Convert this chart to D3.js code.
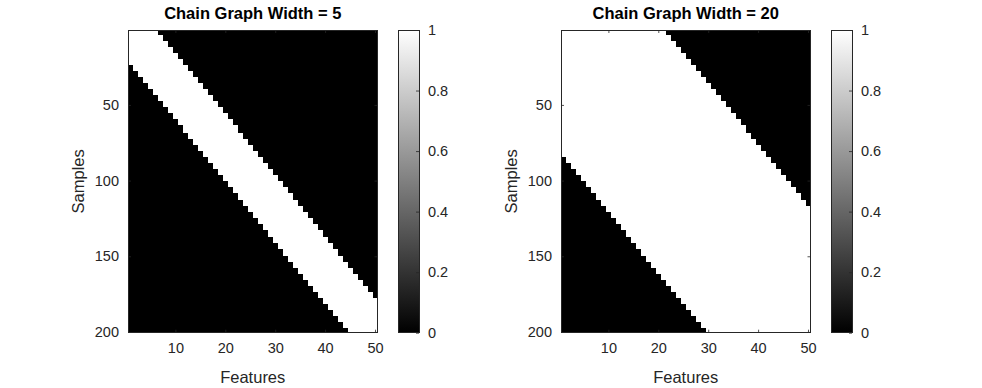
<!DOCTYPE html>
<html><head><meta charset="utf-8">
<script src="https://cdn.jsdelivr.net/npm/d3@7"></script>
<style>
body{margin:0;background:#fff;}
svg{display:block;font-family:Arial,"Liberation Sans",Helvetica,sans-serif;}
</style></head>
<body><svg id="c" width="982" height="388"></svg>
<script>
// Data: for each feature (1..50), the first and last sample index that is 1 (white)
const features = d3.range(1, 51);
const nSamples = 200;
const titles = ["Chain Graph Width = 5", "Chain Graph Width = 20"];
const firstW5 = [1,1,1,1,1,1,4,8,12,16,20,24,28,32,36,40,44,48,52,56,60,64,69,73,77,81,85,89,93,97,101,105,109,113,117,121,125,129,133,138,142,146,150,154,158,162,166,170,174,178];
const lastW5  = [23,27,31,35,39,43,47,51,55,59,63,68,72,76,80,84,88,92,96,100,104,108,112,116,120,124,128,132,137,141,145,149,153,157,161,165,169,173,177,181,185,189,193,197,200,200,200,200,200,200];
const firstW20 = [1,1,1,1,1,1,1,1,1,1,1,1,1,1,1,1,1,1,1,1,1,4,8,12,16,20,24,28,32,36,40,44,48,52,56,60,64,69,73,77,81,85,89,93,97,101,105,109,113,117];
const lastW20  = [84,88,92,96,100,104,108,112,116,120,124,128,132,137,141,145,149,153,157,161,165,169,173,177,181,185,189,193,197,200,200,200,200,200,200,200,200,200,200,200,200,200,200,200,200,200,200,200,200,200];
const xTicks = [10,20,30,40,50];
const yTicks = [50,100,150,200];
const cbTicks = [0,0.2,0.4,0.6,0.8,1];
const cbTickLabels = ["0","0.2","0.4","0.6","0.8","1"];

const svg = d3.select("#c");
const axCol = "#262626";
const tickFont = "14.5px";
const labelFont = "16.5px";
const panels = [
  {x0:128, x1:377.5, first:firstW5, last:lastW5, title:titles[0], cb0:398},
  {x0:561, x1:810.5, first:firstW20, last:lastW20, title:titles[1], cb0:831}
];
const y0 = 30, y1 = 332.7;
const cbW = 21;

panels.forEach(p => {
  const g = svg.append("g");
  const x = d3.scaleLinear().domain([0.5, 50.5]).range([p.x0, p.x1]);
  const y = d3.scaleLinear().domain([0.5, nSamples + 0.5]).range([y0, y1]);
  g.append("rect").attr("x", p.x0).attr("y", y0).attr("width", p.x1 - p.x0).attr("height", y1 - y0).attr("fill", "#000");
  g.selectAll("rect.col").data(features).join("rect")
    .attr("class", "col")
    .attr("shape-rendering", "crispEdges")
    .attr("x", d => x(d - 0.5))
    .attr("width", d => x(d + 0.5) - x(d - 0.5) + 0.3)
    .attr("y", (d, i) => y(p.first[i] - 0.5))
    .attr("height", (d, i) => y(p.last[i] + 0.5) - y(p.first[i] - 0.5))
    .attr("fill", "#fff");
  // axes
  const xa = g.append("g").attr("transform", `translate(0,${y1})`)
    .call(d3.axisBottom(x).tickValues(xTicks).tickSizeInner(-3).tickSizeOuter(0).tickPadding(10));
  const xt = g.append("g").attr("transform", `translate(0,${y0})`)
    .call(d3.axisTop(x).tickValues(xTicks).tickSizeInner(-3).tickSizeOuter(0).tickFormat(""));
  const ya = g.append("g").attr("transform", `translate(${p.x0},0)`)
    .call(d3.axisLeft(y).tickValues(yTicks).tickSizeInner(-3).tickSizeOuter(0).tickPadding(9));
  const yr = g.append("g").attr("transform", `translate(${p.x1},0)`)
    .call(d3.axisRight(y).tickValues(yTicks).tickSizeInner(-3).tickSizeOuter(0).tickFormat(""));
  [xa, xt, ya, yr].forEach(a => {
    a.select(".domain").remove();
    a.selectAll("line").attr("stroke", axCol).attr("stroke-width", 0.8);
    a.selectAll("text").attr("fill", axCol).style("font-size", tickFont).style("font-family", "Arial,'Liberation Sans',sans-serif");
  });
  g.append("rect").attr("x", p.x0).attr("y", y0).attr("width", p.x1 - p.x0).attr("height", y1 - y0)
    .attr("fill", "none").attr("stroke", axCol).attr("stroke-width", 1).attr("shape-rendering", "crispEdges");
  const cx = (p.x0 + p.x1) / 2;
  g.append("text").attr("x", cx).attr("y", 19).attr("text-anchor", "middle")
    .style("font-weight", "bold").style("font-size", "16.5px").attr("fill", "#000").text(p.title);
  g.append("text").attr("x", cx).attr("y", 383).attr("text-anchor", "middle")
    .style("font-size", labelFont).attr("fill", axCol).text("Features");
  g.append("text").attr("transform", `translate(${p.x0 - 44},${(y0 + y1) / 2}) rotate(-90)`).attr("text-anchor", "middle")
    .style("font-size", labelFont).attr("fill", axCol).text("Samples");

  // colorbar
  const gid = "grad" + p.cb0;
  const defs = svg.append("defs");
  const lg = defs.append("linearGradient").attr("id", gid).attr("x1", 0).attr("y1", 1).attr("x2", 0).attr("y2", 0);
  lg.append("stop").attr("offset", 0).attr("stop-color", "#000");
  lg.append("stop").attr("offset", 1).attr("stop-color", "#fff");
  const cy = d3.scaleLinear().domain([0, 1]).range([y1, y0]);
  g.append("rect").attr("x", p.cb0).attr("y", y0).attr("width", cbW).attr("height", y1 - y0).attr("fill", `url(#${gid})`);
  const ca = g.append("g").attr("transform", `translate(${p.cb0 + cbW},0)`)
    .call(d3.axisRight(cy).tickValues(cbTicks).tickFormat((d, i) => cbTickLabels[i]).tickSizeInner(-3).tickSizeOuter(0).tickPadding(9));
  ca.select(".domain").remove();
  ca.selectAll("line").attr("stroke", axCol).attr("stroke-width", 0.8);
  ca.selectAll("text").attr("fill", axCol).style("font-size", tickFont).style("font-family", "Arial,'Liberation Sans',sans-serif");
  g.append("rect").attr("x", p.cb0).attr("y", y0).attr("width", cbW).attr("height", y1 - y0)
    .attr("fill", "none").attr("stroke", axCol).attr("stroke-width", 1).attr("shape-rendering", "crispEdges");
});
</script></body></html>
